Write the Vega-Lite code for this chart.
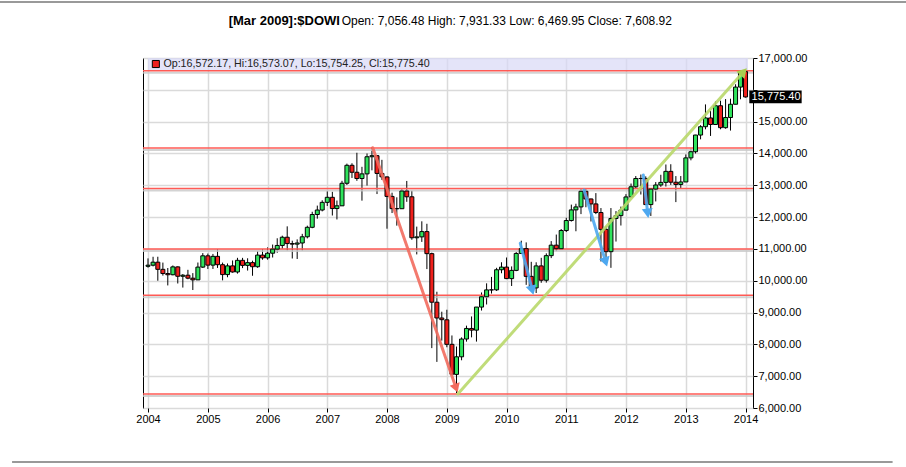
{
  "$schema": "https://vega.github.io/schema/vega-lite/v6.json",
  "width": 610,
  "height": 350,
  "autosize": {"type": "none"},
  "padding": {"left": 143, "top": 58, "right": 153, "bottom": 59},
  "background": "white",
  "resolve": {"axis": {"x": "independent", "y": "independent"}},
  "config": {
    "font": "Liberation Sans",
    "view": {"stroke": "black", "strokeWidth": 1},
    "axis": {"labelFont": "Liberation Sans", "labelColor": "black", "labelFontSize": 11, "tickColor": "black", "tickSize": 4, "domain": false, "gridColor": "#dadada", "gridWidth": 1.5, "title": null, "labelOverlap": false, "labelFlush": false, "labelPadding": 1, "grid": true}
  },
  "datasets": {
    "candles": [
      {"d": "2004-01-01", "o": 10454, "h": 10702, "l": 10410, "c": 10488},
      {"d": "2004-02-01", "o": 10488, "h": 10753, "l": 10450, "c": 10583},
      {"d": "2004-03-01", "o": 10583, "h": 10754, "l": 10000, "c": 10358},
      {"d": "2004-04-01", "o": 10358, "h": 10570, "l": 10160, "c": 10226},
      {"d": "2004-05-01", "o": 10226, "h": 10400, "l": 9852, "c": 10188},
      {"d": "2004-06-01", "o": 10188, "h": 10480, "l": 10170, "c": 10435},
      {"d": "2004-07-01", "o": 10435, "h": 10450, "l": 9913, "c": 10140},
      {"d": "2004-08-01", "o": 10140, "h": 10210, "l": 9785, "c": 10174},
      {"d": "2004-09-01", "o": 10174, "h": 10343, "l": 10047, "c": 10080},
      {"d": "2004-10-01", "o": 10080, "h": 10239, "l": 9708, "c": 10027},
      {"d": "2004-11-01", "o": 10027, "h": 10572, "l": 10025, "c": 10428},
      {"d": "2004-12-01", "o": 10428, "h": 10868, "l": 10400, "c": 10783},
      {"d": "2005-01-01", "o": 10783, "h": 10854, "l": 10368, "c": 10490},
      {"d": "2005-02-01", "o": 10490, "h": 10842, "l": 10370, "c": 10766},
      {"d": "2005-03-01", "o": 10766, "h": 10984, "l": 10402, "c": 10504},
      {"d": "2005-04-01", "o": 10504, "h": 10570, "l": 10012, "c": 10193},
      {"d": "2005-05-01", "o": 10193, "h": 10542, "l": 10109, "c": 10467},
      {"d": "2005-06-01", "o": 10467, "h": 10637, "l": 10253, "c": 10275},
      {"d": "2005-07-01", "o": 10275, "h": 10720, "l": 10224, "c": 10641},
      {"d": "2005-08-01", "o": 10641, "h": 10719, "l": 10397, "c": 10482},
      {"d": "2005-09-01", "o": 10482, "h": 10705, "l": 10319, "c": 10569},
      {"d": "2005-10-01", "o": 10569, "h": 10630, "l": 10156, "c": 10440},
      {"d": "2005-11-01", "o": 10440, "h": 10931, "l": 10406, "c": 10806},
      {"d": "2005-12-01", "o": 10806, "h": 10985, "l": 10660, "c": 10718},
      {"d": "2006-01-01", "o": 10718, "h": 11047, "l": 10661, "c": 10865},
      {"d": "2006-02-01", "o": 10865, "h": 11137, "l": 10730, "c": 10993},
      {"d": "2006-03-01", "o": 10993, "h": 11334, "l": 10880, "c": 11109},
      {"d": "2006-04-01", "o": 11109, "h": 11416, "l": 11005, "c": 11367},
      {"d": "2006-05-01", "o": 11367, "h": 11709, "l": 10952, "c": 11168},
      {"d": "2006-06-01", "o": 11168, "h": 11258, "l": 10699, "c": 11150},
      {"d": "2006-07-01", "o": 11150, "h": 11300, "l": 10683, "c": 11186},
      {"d": "2006-08-01", "o": 11186, "h": 11473, "l": 10950, "c": 11381},
      {"d": "2006-09-01", "o": 11381, "h": 11730, "l": 11330, "c": 11679},
      {"d": "2006-10-01", "o": 11679, "h": 12167, "l": 11650, "c": 12081},
      {"d": "2006-11-01", "o": 12081, "h": 12361, "l": 11950, "c": 12222},
      {"d": "2006-12-01", "o": 12222, "h": 12529, "l": 12180, "c": 12463},
      {"d": "2007-01-01", "o": 12463, "h": 12814, "l": 12350, "c": 12622},
      {"d": "2007-02-01", "o": 12622, "h": 12795, "l": 12050, "c": 12269},
      {"d": "2007-03-01", "o": 12269, "h": 12520, "l": 11926, "c": 12354},
      {"d": "2007-04-01", "o": 12354, "h": 13140, "l": 12350, "c": 13063},
      {"d": "2007-05-01", "o": 13063, "h": 13680, "l": 13010, "c": 13628},
      {"d": "2007-06-01", "o": 13628, "h": 13692, "l": 13230, "c": 13409},
      {"d": "2007-07-01", "o": 13409, "h": 14022, "l": 13140, "c": 13212},
      {"d": "2007-08-01", "o": 13212, "h": 13580, "l": 12517, "c": 13358},
      {"d": "2007-09-01", "o": 13358, "h": 14000, "l": 12990, "c": 13896},
      {"d": "2007-10-01", "o": 13896, "h": 14198, "l": 13470, "c": 13930},
      {"d": "2007-11-01", "o": 13930, "h": 13950, "l": 12724, "c": 13372},
      {"d": "2007-12-01", "o": 13372, "h": 13800, "l": 13170, "c": 13265},
      {"d": "2008-01-01", "o": 13262, "h": 13280, "l": 11635, "c": 12650},
      {"d": "2008-02-01", "o": 12650, "h": 12767, "l": 12127, "c": 12266},
      {"d": "2008-03-01", "o": 12266, "h": 12622, "l": 11731, "c": 12263},
      {"d": "2008-04-01", "o": 12263, "h": 12876, "l": 12263, "c": 12820},
      {"d": "2008-05-01", "o": 12820, "h": 13136, "l": 12480, "c": 12638},
      {"d": "2008-06-01", "o": 12638, "h": 12830, "l": 11287, "c": 11350},
      {"d": "2008-07-01", "o": 11350, "h": 11700, "l": 10827, "c": 11378},
      {"d": "2008-08-01", "o": 11378, "h": 11867, "l": 11220, "c": 11544},
      {"d": "2008-09-01", "o": 11544, "h": 11790, "l": 10366, "c": 10851},
      {"d": "2008-10-01", "o": 10851, "h": 10882, "l": 7882, "c": 9325},
      {"d": "2008-11-01", "o": 9325, "h": 9654, "l": 7449, "c": 8829},
      {"d": "2008-12-01", "o": 8829, "h": 9026, "l": 8118, "c": 8776},
      {"d": "2009-01-01", "o": 8772, "h": 9088, "l": 7909, "c": 8001},
      {"d": "2009-02-01", "o": 8001, "h": 8280, "l": 7050, "c": 7063},
      {"d": "2009-03-01", "o": 7056.48, "h": 7931.33, "l": 6469.95, "c": 7608.92},
      {"d": "2009-04-01", "o": 7609, "h": 8220, "l": 7500, "c": 8168},
      {"d": "2009-05-01", "o": 8168, "h": 8588, "l": 8086, "c": 8500},
      {"d": "2009-06-01", "o": 8500, "h": 8878, "l": 8221, "c": 8447},
      {"d": "2009-07-01", "o": 8447, "h": 9172, "l": 8087, "c": 9172},
      {"d": "2009-08-01", "o": 9172, "h": 9631, "l": 9063, "c": 9496},
      {"d": "2009-09-01", "o": 9496, "h": 9918, "l": 9253, "c": 9712},
      {"d": "2009-10-01", "o": 9712, "h": 10120, "l": 9597, "c": 9713},
      {"d": "2009-11-01", "o": 9713, "h": 10406, "l": 9678, "c": 10345},
      {"d": "2009-12-01", "o": 10345, "h": 10580, "l": 10235, "c": 10428},
      {"d": "2010-01-01", "o": 10428, "h": 10730, "l": 10050, "c": 10067},
      {"d": "2010-02-01", "o": 10067, "h": 10450, "l": 9835, "c": 10325},
      {"d": "2010-03-01", "o": 10325, "h": 10900, "l": 10300, "c": 10857},
      {"d": "2010-04-01", "o": 10857, "h": 11258, "l": 10850, "c": 11009},
      {"d": "2010-05-01", "o": 11009, "h": 11205, "l": 9870, "c": 10137},
      {"d": "2010-06-01", "o": 10137, "h": 10594, "l": 9757, "c": 9774},
      {"d": "2010-07-01", "o": 9774, "h": 10580, "l": 9614, "c": 10466},
      {"d": "2010-08-01", "o": 10466, "h": 10720, "l": 9936, "c": 10015},
      {"d": "2010-09-01", "o": 10015, "h": 10860, "l": 9941, "c": 10788},
      {"d": "2010-10-01", "o": 10788, "h": 11245, "l": 10711, "c": 11118},
      {"d": "2010-11-01", "o": 11118, "h": 11451, "l": 10929, "c": 11006},
      {"d": "2010-12-01", "o": 11006, "h": 11625, "l": 11006, "c": 11578},
      {"d": "2011-01-01", "o": 11578, "h": 11980, "l": 11530, "c": 11892},
      {"d": "2011-02-01", "o": 11892, "h": 12392, "l": 11860, "c": 12226},
      {"d": "2011-03-01", "o": 12226, "h": 12420, "l": 11555, "c": 12320},
      {"d": "2011-04-01", "o": 12320, "h": 12877, "l": 12094, "c": 12811},
      {"d": "2011-05-01", "o": 12811, "h": 12876, "l": 12309, "c": 12570},
      {"d": "2011-06-01", "o": 12570, "h": 12580, "l": 11862, "c": 12414},
      {"d": "2011-07-01", "o": 12414, "h": 12754, "l": 12093, "c": 12143},
      {"d": "2011-08-01", "o": 12143, "h": 12284, "l": 10605, "c": 11614},
      {"d": "2011-09-01", "o": 11614, "h": 11717, "l": 10597, "c": 10913},
      {"d": "2011-10-01", "o": 10913, "h": 12284, "l": 10405, "c": 11955},
      {"d": "2011-11-01", "o": 11955, "h": 12188, "l": 11231, "c": 12046},
      {"d": "2011-12-01", "o": 12046, "h": 12330, "l": 11735, "c": 12218},
      {"d": "2012-01-01", "o": 12218, "h": 12721, "l": 12218, "c": 12633},
      {"d": "2012-02-01", "o": 12633, "h": 13055, "l": 12623, "c": 12952},
      {"d": "2012-03-01", "o": 12952, "h": 13290, "l": 12880, "c": 13212},
      {"d": "2012-04-01", "o": 13212, "h": 13338, "l": 12710, "c": 13214},
      {"d": "2012-05-01", "o": 13214, "h": 13280, "l": 12392, "c": 12393},
      {"d": "2012-06-01", "o": 12393, "h": 12900, "l": 12035, "c": 12880},
      {"d": "2012-07-01", "o": 12880, "h": 13100, "l": 12492, "c": 13009},
      {"d": "2012-08-01", "o": 13009, "h": 13330, "l": 12950, "c": 13091},
      {"d": "2012-09-01", "o": 13091, "h": 13653, "l": 12960, "c": 13437},
      {"d": "2012-10-01", "o": 13437, "h": 13661, "l": 13011, "c": 13096},
      {"d": "2012-11-01", "o": 13096, "h": 13289, "l": 12471, "c": 13026},
      {"d": "2012-12-01", "o": 13026, "h": 13290, "l": 12883, "c": 13104},
      {"d": "2013-01-01", "o": 13104, "h": 13969, "l": 13104, "c": 13861},
      {"d": "2013-02-01", "o": 13861, "h": 14149, "l": 13784, "c": 14054},
      {"d": "2013-03-01", "o": 14054, "h": 14585, "l": 14000, "c": 14579},
      {"d": "2013-04-01", "o": 14579, "h": 14888, "l": 14444, "c": 14840},
      {"d": "2013-05-01", "o": 14840, "h": 15542, "l": 14759, "c": 15116},
      {"d": "2013-06-01", "o": 15116, "h": 15340, "l": 14551, "c": 14910},
      {"d": "2013-07-01", "o": 14910, "h": 15634, "l": 14910, "c": 15500},
      {"d": "2013-08-01", "o": 15500, "h": 15658, "l": 14760, "c": 14810},
      {"d": "2013-09-01", "o": 14810, "h": 15709, "l": 14777, "c": 15130},
      {"d": "2013-10-01", "o": 15130, "h": 15721, "l": 14719, "c": 15546},
      {"d": "2013-11-01", "o": 15546, "h": 16174, "l": 15546, "c": 16086},
      {"d": "2013-12-01", "o": 16086, "h": 16589, "l": 15703, "c": 16577},
      {"d": "2014-01-01", "o": 16572.17, "h": 16573.07, "l": 15754.25, "c": 15775.40}
    ],
    "levels": [{"v": 16600}, {"v": 14170}, {"v": 12900}, {"v": 11000}, {"v": 9540}, {"v": 6440}],
    "arrows": [
      {"a": "r", "d": "2007-10-06", "v": 14180, "p": 0},
      {"a": "r", "d": "2009-02-27", "v": 6619, "p": 1},
      {"a": "g", "d": "2009-03-09", "v": 6440, "p": 0},
      {"a": "g", "d": "2013-12-20", "v": 16569, "p": 1},
      {"a": "b1", "d": "2010-03-26", "v": 11176, "p": 0},
      {"a": "b1", "d": "2010-06-07", "v": 9702, "p": 1},
      {"a": "b2", "d": "2011-04-20", "v": 12851, "p": 0},
      {"a": "b2", "d": "2011-08-30", "v": 10591, "p": 1},
      {"a": "b3", "d": "2012-04-16", "v": 13322, "p": 0},
      {"a": "b3", "d": "2012-05-13", "v": 12119, "p": 1}
    ],
    "one": [{}]
  },
  "layer": [
    {
      "data": {"name": "candles"},
      "mark": {"type": "rule", "color": "black", "strokeWidth": 1, "clip": true},
      "encoding": {
        "x": {
          "field": "d", "type": "temporal",
          "scale": {"type": "utc", "domain": [{"year": 2004, "month": 1, "date": 1, "utc": true}, {"year": 2014, "month": 1, "date": 16, "utc": true}]},
          "axis": {"orient": "bottom", "format": "%Y", "formatType": "utc", "tickCount": {"interval": "year", "step": 1}, "labelFlush": false, "labelOverlap": false, "labelPadding": 1, "grid": true}
        },
        "y": {
          "field": "l", "type": "quantitative",
          "scale": {"domain": [6000, 17000], "nice": false, "zero": false},
          "axis": {"orient": "right", "values": [6000, 7000, 8000, 9000, 10000, 11000, 12000, 13000, 14000, 15000, 16000, 17000], "format": ",.2f", "labelExpr": "datum.value == 16000 ? '' : datum.label", "labelPadding": 1, "labelFlush": false, "labelOverlap": false, "grid": true}
        },
        "y2": {"field": "h"}
      }
    },
    {
      "data": {"name": "one"},
      "mark": {"type": "rect", "fill": "#d8d8f6", "opacity": 0.7},
      "encoding": {
        "x": {"datum": {"year": 2004, "month": 1, "date": 1, "utc": true}, "type": "temporal", "axis": null},
        "x2": {"datum": {"year": 2014, "month": 1, "date": 16, "utc": true}},
        "y": {"datum": 16620, "type": "quantitative", "axis": null},
        "y2": {"datum": 17000}
      }
    },
    {
      "data": {"name": "levels"},
      "mark": {"type": "rule", "color": "#c8c8c8", "strokeWidth": 2, "yOffset": 2, "opacity": 0.8},
      "encoding": {"y": {"field": "v", "type": "quantitative", "axis": null}}
    },
    {
      "data": {"name": "levels"},
      "mark": {"type": "rule", "color": "#ff5a55", "strokeWidth": 1.5},
      "encoding": {"y": {"field": "v", "type": "quantitative", "axis": null}}
    },
    {
      "data": {"name": "candles"},
      "mark": {"type": "bar", "size": 4, "stroke": "black", "strokeWidth": 1, "clip": true},
      "encoding": {
        "x": {"field": "d", "type": "temporal", "axis": null},
        "y": {"field": "o", "type": "quantitative", "axis": null},
        "y2": {"field": "c"},
        "color": {"condition": {"test": "datum.c >= datum.o", "value": "#2fe35c"}, "value": "#f0201c"}
      }
    },
    {
      "data": {"name": "arrows"},
      "mark": {"type": "line", "strokeWidth": 3, "strokeCap": "round", "opacity": 0.9},
      "encoding": {
        "x": {"field": "d", "type": "temporal", "axis": null},
        "y": {"field": "v", "type": "quantitative", "axis": null},
        "color": {"field": "a", "type": "nominal", "legend": null, "scale": {"domain": ["r", "g", "b1", "b2", "b3"], "range": ["#f26b5e", "#b9d86a", "#4ea8f0", "#4ea8f0", "#4ea8f0"]}},
        "order": {"field": "p", "type": "quantitative"}
      }
    },
    {
      "data": {"name": "arrows"},
      "transform": [{"filter": "datum.a == 'r' && datum.p == 1"}],
      "mark": {"type": "point", "shape": "triangle-up", "filled": true, "size": 110, "angle": 160.6, "opacity": 1, "color": "#f26b5e"},
      "encoding": {"x": {"field": "d", "type": "temporal", "axis": null}, "y": {"field": "v", "type": "quantitative", "axis": null}}
    },
    {
      "data": {"name": "arrows"},
      "transform": [{"filter": "datum.a == 'g' && datum.p == 1"}],
      "mark": {"type": "point", "shape": "triangle-up", "filled": true, "size": 120, "angle": 42, "opacity": 1, "color": "#a8cc50"},
      "encoding": {"x": {"field": "d", "type": "temporal", "axis": null}, "y": {"field": "v", "type": "quantitative", "axis": null}}
    },
    {
      "data": {"name": "arrows"},
      "transform": [{"filter": "datum.a == 'b1' && datum.p == 1"}],
      "mark": {"type": "point", "shape": "triangle-up", "filled": true, "size": 120, "angle": 165.6, "opacity": 1, "color": "#4ea8f0"},
      "encoding": {"x": {"field": "d", "type": "temporal", "axis": null}, "y": {"field": "v", "type": "quantitative", "axis": null}}
    },
    {
      "data": {"name": "arrows"},
      "transform": [{"filter": "datum.a == 'b2' && datum.p == 1"}],
      "mark": {"type": "point", "shape": "triangle-up", "filled": true, "size": 120, "angle": 163.1, "opacity": 1, "color": "#4ea8f0"},
      "encoding": {"x": {"field": "d", "type": "temporal", "axis": null}, "y": {"field": "v", "type": "quantitative", "axis": null}}
    },
    {
      "data": {"name": "arrows"},
      "transform": [{"filter": "datum.a == 'b3' && datum.p == 1"}],
      "mark": {"type": "point", "shape": "triangle-up", "filled": true, "size": 120, "angle": 173.4, "opacity": 1, "color": "#4ea8f0"},
      "encoding": {"x": {"field": "d", "type": "temporal", "axis": null}, "y": {"field": "v", "type": "quantitative", "axis": null}}
    },
    {
      "data": {"name": "one"},
      "mark": {"type": "point", "shape": "square", "filled": true, "size": 50, "color": "#ee2020", "stroke": "black", "strokeWidth": 1, "opacity": 1},
      "encoding": {
        "x": {"datum": {"year": 2004, "month": 2, "date": 18, "utc": true}, "type": "temporal", "axis": null},
        "y": {"datum": 16811, "type": "quantitative", "axis": null}
      }
    },
    {
      "data": {"name": "one"},
      "mark": {"type": "text", "text": "Op:16,572.17, Hi:16,573.07, Lo:15,754.25, Cl:15,775.40", "align": "left", "baseline": "middle", "fontSize": 10.7, "font": "Liberation Sans", "color": "#222222"},
      "encoding": {
        "x": {"datum": {"year": 2004, "month": 4, "date": 4, "utc": true}, "type": "temporal", "axis": null},
        "y": {"datum": 16811, "type": "quantitative", "axis": null}
      }
    },
    {
      "data": {"name": "one"},
      "mark": {"type": "rect", "fill": "black", "clip": false},
      "encoding": {
        "x": {"datum": {"year": 2014, "month": 1, "date": 24, "utc": true}, "type": "temporal", "axis": null},
        "x2": {"datum": {"year": 2014, "month": 12, "date": 10, "utc": true}},
        "y": {"datum": 15975, "type": "quantitative", "axis": null},
        "y2": {"datum": 15575}
      }
    },
    {
      "data": {"name": "one"},
      "mark": {"type": "text", "text": "15,775.40", "align": "left", "baseline": "middle", "fontSize": 11, "font": "Liberation Sans", "color": "white", "clip": false},
      "encoding": {
        "x": {"datum": {"year": 2014, "month": 2, "date": 7, "utc": true}, "type": "temporal", "axis": null},
        "y": {"datum": 15775.4, "type": "quantitative", "axis": null}
      }
    },
    {
      "data": {"name": "one"},
      "mark": {"type": "text", "text": "[Mar 2009]:$DOWI", "align": "left", "baseline": "alphabetic", "fontSize": 13, "fontWeight": "bold", "font": "Liberation Sans", "color": "black", "clip": false},
      "encoding": {
        "x": {"datum": {"year": 2005, "month": 5, "date": 8, "utc": true}, "type": "temporal", "axis": null},
        "y": {"datum": 18052, "type": "quantitative", "axis": null}
      }
    },
    {
      "data": {"name": "one"},
      "mark": {"type": "text", "text": "Open: 7,056.48 High: 7,931.33 Low: 6,469.95 Close: 7,608.92", "align": "left", "baseline": "alphabetic", "fontSize": 12, "font": "Liberation Sans", "color": "black", "clip": false},
      "encoding": {
        "x": {"datum": {"year": 2007, "month": 3, "date": 30, "utc": true}, "type": "temporal", "axis": null},
        "y": {"datum": 18052, "type": "quantitative", "axis": null}
      }
    },
    {
      "data": {"name": "one"},
      "mark": {"type": "rule", "color": "#999999", "strokeWidth": 2, "clip": false},
      "encoding": {
        "x": {"datum": {"year": 2001, "month": 6, "date": 1, "utc": true}, "type": "temporal", "axis": null},
        "x2": {"datum": {"year": 2016, "month": 10, "date": 1, "utc": true}},
        "y": {"datum": 18760, "type": "quantitative", "axis": null}
      }
    },
    {
      "data": {"name": "one"},
      "mark": {"type": "rule", "color": "#999999", "strokeWidth": 2, "clip": false},
      "encoding": {
        "x": {"datum": {"year": 2001, "month": 9, "date": 22, "utc": true}, "type": "temporal", "axis": null},
        "x2": {"datum": {"year": 2016, "month": 6, "date": 18, "utc": true}},
        "y": {"datum": 4303, "type": "quantitative", "axis": null}
      }
    }
  ]
}
